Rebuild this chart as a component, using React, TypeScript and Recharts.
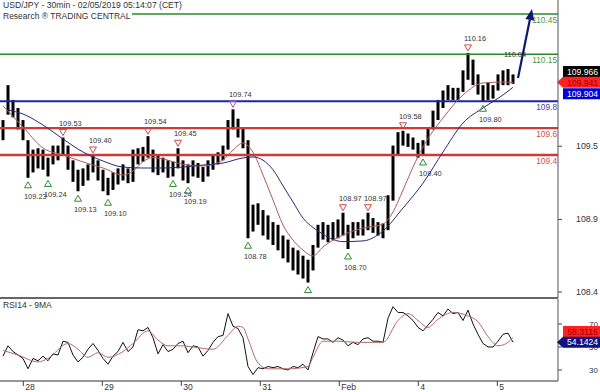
import React from "react";
import { ComposedChart, Bar, Line, Scatter, XAxis, YAxis, ReferenceLine } from "recharts";

const FONT = "'Liberation Sans', Arial, sans-serif";

// 30min USD/JPY, grouped into ~90min bars (index 0 = Jan 25 late)
const highs = [
  109.66, 109.92, 109.81, 109.75, 109.66, 109.51, 109.44, 109.45, 109.44, 109.38,
  109.47, 109.47, 109.53, 109.47, 109.36, 109.29, 109.30, 109.33, 109.40, 109.36,
  109.29, 109.23, 109.27, 109.30, 109.33, 109.30, 109.44, 109.45, 109.46, 109.54,
  109.44, 109.40, 109.38, 109.36, 109.35, 109.45, 109.36, 109.33, 109.36, 109.34,
  109.31, 109.36, 109.40, 109.42, 109.47, 109.66, 109.74, 109.67, 109.60, 109.51,
  109.03, 109.04, 108.99, 108.95, 108.90, 108.88, 108.80, 108.77, 108.71, 108.69,
  108.65, 108.62, 108.73, 108.88, 108.90, 108.88, 108.90, 108.92, 108.97, 108.88,
  108.90, 108.90, 108.92, 108.97, 108.93, 108.90, 108.89, 109.10, 109.47, 109.57,
  109.58, 109.56, 109.53, 109.49, 109.51, 109.60, 109.73, 109.81, 109.88, 109.92,
  109.90, 109.90, 110.03, 110.16, 110.11, 110.00, 109.92, 109.94, 109.92, 110.00,
  110.03, 110.04, 110.00,
];
const lows = [
  109.51, 109.70, 109.68, 109.59, 109.51, 109.23, 109.27, 109.30, 109.29, 109.24,
  109.33, 109.36, 109.40, 109.29, 109.20, 109.13, 109.17, 109.21, 109.27, 109.21,
  109.13, 109.10, 109.14, 109.18, 109.21, 109.19, 109.20, 109.33, 109.35, 109.38,
  109.27, 109.25, 109.27, 109.23, 109.24, 109.30, 109.21, 109.19, 109.24, 109.23,
  109.20, 109.24, 109.29, 109.33, 109.36, 109.44, 109.59, 109.53, 109.45, 108.78,
  108.83, 108.88, 108.80, 108.77, 108.73, 108.69, 108.63, 108.60, 108.54, 108.51,
  108.48, 108.45, 108.54, 108.71, 108.77, 108.75, 108.77, 108.78, 108.80, 108.70,
  108.78, 108.80, 108.80, 108.84, 108.82, 108.80, 108.78, 108.84, 109.06, 109.40,
  109.47, 109.46, 109.44, 109.38, 109.40, 109.47, 109.59, 109.66, 109.75, 109.81,
  109.81, 109.81, 109.87, 109.96, 109.92, 109.85, 109.80, 109.81, 109.82, 109.88,
  109.92, 109.92, 109.93,
];

const redMaIdx = [0, 4, 8, 12, 16, 20, 24, 26, 28, 30, 32, 36, 40, 44, 46, 48, 50, 52, 54, 56, 58, 60, 62, 64, 68, 72, 76, 78, 80, 82, 84, 88, 92, 96, 100, 102];
const redMaVal = [109.765, 109.608, 109.452, 109.40, 109.348, 109.303, 109.251, 109.28, 109.35, 109.38, 109.37, 109.33, 109.318, 109.363, 109.437, 109.489, 109.42, 109.251, 109.065, 108.878, 108.767, 108.692, 108.648, 108.715, 108.804, 108.856, 108.886, 108.975, 109.139, 109.31, 109.46, 109.675, 109.847, 109.936, 109.943, 109.941];

const blueMaIdx = [1, 4, 8, 12, 16, 20, 24, 28, 32, 36, 40, 44, 48, 50, 54, 56, 58, 60, 62, 64, 66, 68, 72, 76, 80, 84, 88, 92, 96, 100, 102];
const blueMaVal = [109.735, 109.705, 109.623, 109.519, 109.422, 109.355, 109.31, 109.303, 109.303, 109.31, 109.325, 109.34, 109.378, 109.385, 109.29, 109.17, 109.05, 108.93, 108.86, 108.81, 108.77, 108.755, 108.76, 108.834, 109.005, 109.19, 109.422, 109.638, 109.75, 109.847, 109.904];

const rsi = [
  42, 51, 46, 43, 40, 31, 40, 38, 42, 38,
  44, 43, 55, 54, 43, 37, 41, 48, 53, 47,
  40, 35, 42, 46, 54, 46, 50, 65, 64, 67,
  58, 44, 52, 46, 48, 53, 55, 45, 51, 50,
  42, 47, 54, 59, 60, 79, 68, 66, 58, 33,
  26, 32, 31, 33, 32, 33, 31, 30, 33, 32,
  35, 30, 45, 59, 57, 57, 54, 58, 56, 51,
  54, 52, 57, 58, 55, 55, 54, 75, 85, 80,
  80, 77, 73, 67, 64, 69, 74, 80, 77, 83,
  79, 80, 73, 82, 70, 61, 53, 50, 50, 55,
  61, 62, 54.14,
];
const rsiMaIdx = [0, 3, 7, 9, 13, 15, 17, 19, 21, 24, 26, 29, 31, 33, 36, 38, 42, 45, 47, 48, 49, 51, 53, 57, 61, 62, 64, 67, 71, 76, 79, 81, 83, 85, 87, 90, 93, 95, 97, 99, 101, 102];
const rsiMaVal = [47, 43, 37, 40, 53, 48, 41, 45, 41, 46, 53, 64, 56, 51, 51, 50, 48, 60, 68, 67, 57, 36, 31, 31, 33, 41, 55, 55, 54, 54, 73, 79, 73, 67, 74, 80, 77, 72, 59, 51, 54, 58.31];

const upIdx = [5, 9, 15, 21, 34, 37, 49, 61, 69, 84, 96];
const downIdx = [12, 18, 29, 35, 46, 68, 73, 80, 93, 101];
const downColors = ["#d04848", "#d04848", "#d04848", "#d04848", "#b050c0", "#d04848", "#d04848", "#d04848", "#d04848", "none"];

const levels = [110.45, 110.15, 109.8, 109.6, 109.4];
const levelLabels = ["110.45", "110.15", "109.8", "109.6", "109.4"];
const levelColors = ["#2a8a2a", "#2a8a2a", "#2323a0", "#cc3a3a", "#cc3a3a"];
const levelText = ["#4a9a4a", "#4a9a4a", "#4545a5", "#c85050", "#c85050"];
const levelWidth = [1.5, 1.5, 1.8, 2.4, 2.4];

const dayLabels = ["28", "29", "30", "31", "Feb", "4", "5"];
const DAY0 = 4.06;
const BARS_PER_DAY = 15.8;
const dayTicks = dayLabels.map((_, k) => DAY0 + k * BARS_PER_DAY);

const priceTicks = [108.38, 108.92, 109.465];
const rsiTicks = [30, 50, 70];

const lastPrice = 109.966;
const lastRed = 109.941;
const lastBlue = 109.904;
const rsiLast = 54.1424;
const rsiMaLast = 58.3116;

const arrowIdx = [103, 105.8];
const arrowVal = [109.973, 110.487];

const X_DOMAIN: [number, number] = [-0.6, 111];
const P_DOMAIN: [number, number] = [108.335, 110.554];
const R_DOMAIN: [number, number] = [20.4, 91.7];

const bars = highs.map((h, i) => ({ x: i, range: [lows[i], h] }));
const redMa = redMaIdx.map((x, i) => ({ x, v: redMaVal[i] }));
const blueMa = blueMaIdx.map((x, i) => ({ x, v: blueMaVal[i] }));
const rsiRows = rsi.map((v, i) => ({ x: i, v }));
const rsiMa = rsiMaIdx.map((x, i) => ({ x, v: rsiMaVal[i] }));
const upMarks = upIdx.map((x) => ({ x, v: lows[x] }));
const downMarks = downIdx.map((x, k) => ({ x, v: highs[x], c: downColors[k] }));

const priceBoxes = [
  { value: lastPrice, digits: 3, bg: "#000000", fg: "#ffffff", dy: -7.5, arrow: false },
  { value: lastRed, digits: 3, bg: "#ff2020", fg: "#a00000", dy: 0, arrow: true },
  { value: lastBlue, digits: 3, bg: "#0000dd", fg: "#ffffff", dy: 6.5, arrow: false },
];
const rsiBoxes = [
  { value: rsiMaLast, digits: 4, bg: "#ff2020", fg: "#a00000", dy: -6, arrow: false },
  { value: rsiLast, digits: 4, bg: "#101080", fg: "#ffffff", dy: 0, arrow: true },
];

function ValueBox({ x, y, value, digits, bg, fg, dy, arrow }: any) {
  const cy = y + dy;
  const h = 11;
  const left = x + 5;
  const right = x + 42;
  const d = arrow
    ? `M${x - 1},${cy} L${left},${cy - h / 2} L${right},${cy - h / 2} L${right},${cy + h / 2} L${left},${cy + h / 2} Z`
    : `M${left},${cy - h / 2} L${right},${cy - h / 2} L${right},${cy + h / 2} L${left},${cy + h / 2} Z`;
  return (
    <g>
      <path d={d} fill={bg} />
      <text x={(left + right) / 2 + 1} y={cy + 3.2} textAnchor="middle" fill={fg} fontSize={8.6} fontFamily={FONT}>
        {value.toFixed(digits)}
      </text>
    </g>
  );
}

const makeAxisTick = (boxes: any[], fontSize: number, digits: number) => (p: any) => {
  const { x, y, payload } = p;
  const box = boxes.find((b) => b.value === payload.value);
  if (box) return <ValueBox x={x} y={y} {...box} />;
  return (
    <g>
      <line x1={x} x2={x + 4} y1={y} y2={y} stroke="#444" />
      <text x={x + 40} y={y + 3} textAnchor="end" fill="#333" fontSize={fontSize} fontFamily={FONT}>
        {payload.value.toFixed(digits)}
      </text>
    </g>
  );
};

const DayTick = (p: any) => {
  const { x, y, payload } = p;
  const k = Math.round((payload.value - DAY0) / BARS_PER_DAY);
  return (
    <g>
      <line x1={x} x2={x} y1={y} y2={y + 5} stroke="#444" />
      <text x={x + 2} y={y + 9} fill="#333" fontSize={8.6} fontFamily={FONT}>
        {dayLabels[k]}
      </text>
    </g>
  );
};

const UpMark = (p: any) => {
  const { cx, cy, payload } = p;
  return (
    <g>
      <path d={`M${cx},${cy + 4} L${cx + 3.5},${cy + 10} L${cx - 3.5},${cy + 10} Z`} fill="none" stroke="#2f8f2f" />
      <text x={cx - 4} y={cy + 21} fill="#333" fontSize={7.4} fontFamily={FONT}>
        {payload.v.toFixed(2)}
      </text>
    </g>
  );
};

const DownMark = (p: any) => {
  const { cx, cy, payload } = p;
  return (
    <g>
      <path d={`M${cx - 3.5},${cy - 8} L${cx + 3.5},${cy - 8} L${cx},${cy - 2} Z`} fill="none" stroke={payload.c} />
      <text x={cx - 4} y={cy - 12} fill="#333" fontSize={7.4} fontFamily={FONT}>
        {payload.v.toFixed(2)}
      </text>
    </g>
  );
};

const ArrowShape = (p: any) => {
  const x1 = Number(p.x1), y1 = Number(p.y1), x2 = Number(p.x2), y2 = Number(p.y2);
  const len = Math.hypot(x2 - x1, y2 - y1) || 1;
  const ux = (x2 - x1) / len, uy = (y2 - y1) / len;
  const bx = x2 - ux * 11, by = y2 - uy * 11;
  const nx = -uy * 4.5, ny = ux * 4.5;
  return (
    <g>
      <line x1={x1} y1={y1} x2={bx} y2={by} stroke="#0c1a70" strokeWidth={2.2} />
      <path d={`M${x2},${y2} L${bx + nx},${by + ny} L${bx - nx},${by - ny} Z`} fill="#0c1a70" />
    </g>
  );
};

const levelLabel = (k: number) => (p: any) => {
  const vb = p.viewBox || {};
  const right = (vb.x || 0) + (vb.width || 0) - 1;
  return (
    <text x={right} y={(vb.y || 0) + 9} textAnchor="end" fill={levelText[k]} fontSize={8.3} fontFamily={FONT}>
      {levelLabels[k]}
    </text>
  );
};

export default function App() {
  return (
    <div style={{ position: "absolute", left: 0, top: 0, width: 600, height: 392, background: "#fff", fontFamily: FONT }}>
      <div style={{ height: 299, overflow: "hidden" }}>
        <ComposedChart width={600} height={299} data={bars} margin={{ top: 0, right: 0, bottom: 0, left: 0 }}>
          <XAxis dataKey="x" type="number" domain={X_DOMAIN} height={1} tick={false} tickLine={false} axisLine={{ stroke: "#333", strokeWidth: 1.5 }} />
          <YAxis
            orientation="right"
            type="number"
            width={42}
            domain={P_DOMAIN}
            ticks={[...priceTicks, ...priceBoxes.map((b) => b.value)]}
            interval={0}
            tickSize={0}
            tickMargin={0}
            tickLine={false}
            axisLine={{ stroke: "#555" }}
            tick={makeAxisTick(priceBoxes, 8.8, 1)}
          />
          {levels.map((lv, k) => (
            <ReferenceLine key={lv} y={lv} stroke={levelColors[k]} strokeWidth={levelWidth[k]} label={levelLabel(k)} />
          ))}
          <Bar dataKey="range" fill="#000" barSize={3} isAnimationActive={false} />
          <Line data={redMa} dataKey="v" type="monotone" stroke="#b35a5a" strokeWidth={1} dot={false} isAnimationActive={false} />
          <Line data={blueMa} dataKey="v" type="monotone" stroke="#2a2a7a" strokeWidth={1} dot={false} isAnimationActive={false} />
          <Scatter data={upMarks} dataKey="v" shape={UpMark} isAnimationActive={false} />
          <Scatter data={downMarks} dataKey="v" shape={DownMark} isAnimationActive={false} />
          <ReferenceLine
            segment={[
              { x: arrowIdx[0], y: arrowVal[0] },
              { x: arrowIdx[1], y: arrowVal[1] },
            ]}
            shape={ArrowShape}
            stroke="#0c1a70"
            strokeWidth={2.2}
          />
        </ComposedChart>
      </div>
      <ComposedChart width={600} height={93} data={rsiRows} margin={{ top: 0, right: 0, bottom: 0, left: 0 }}>
        <XAxis
          dataKey="x"
          type="number"
          domain={X_DOMAIN}
          ticks={dayTicks}
          interval={0}
          height={11}
          tickSize={0}
          tickMargin={0}
          tickLine={false}
          axisLine={{ stroke: "#333", strokeWidth: 1.2 }}
          tick={DayTick}
        />
        <YAxis
          orientation="right"
          type="number"
          width={42}
          domain={R_DOMAIN}
          ticks={[...rsiTicks, ...rsiBoxes.map((b) => b.value)]}
          interval={0}
          tickSize={0}
          tickMargin={0}
          tickLine={false}
          axisLine={{ stroke: "#555" }}
          tick={makeAxisTick(rsiBoxes, 8, 0)}
        />
        <Line dataKey="v" type="linear" stroke="#111" strokeWidth={1} dot={false} isAnimationActive={false} />
        <Line data={rsiMa} dataKey="v" type="monotone" stroke="#b86a6a" strokeWidth={1} dot={false} isAnimationActive={false} />
      </ComposedChart>
      <div style={{ position: "absolute", left: 0, top: 0, paddingLeft: 3, paddingRight: 1, background: "#fff", fontSize: 8.6, lineHeight: "11px", color: "#333", whiteSpace: "nowrap" }}>
        USD/JPY - 30min - 02/05/2019 05:14:07 (CET)
      </div>
      <div style={{ position: "absolute", left: 0, top: 11, paddingLeft: 3, paddingRight: 1, background: "#fff", fontSize: 8.5, lineHeight: "11px", color: "#333", whiteSpace: "nowrap" }}>
        Research ® TRADING CENTRAL
      </div>
      <div style={{ position: "absolute", left: 3, top: 300, fontSize: 8.5, lineHeight: "11px", color: "#333", whiteSpace: "nowrap" }}>
        RSI14 - 9MA
      </div>
    </div>
  );
}
